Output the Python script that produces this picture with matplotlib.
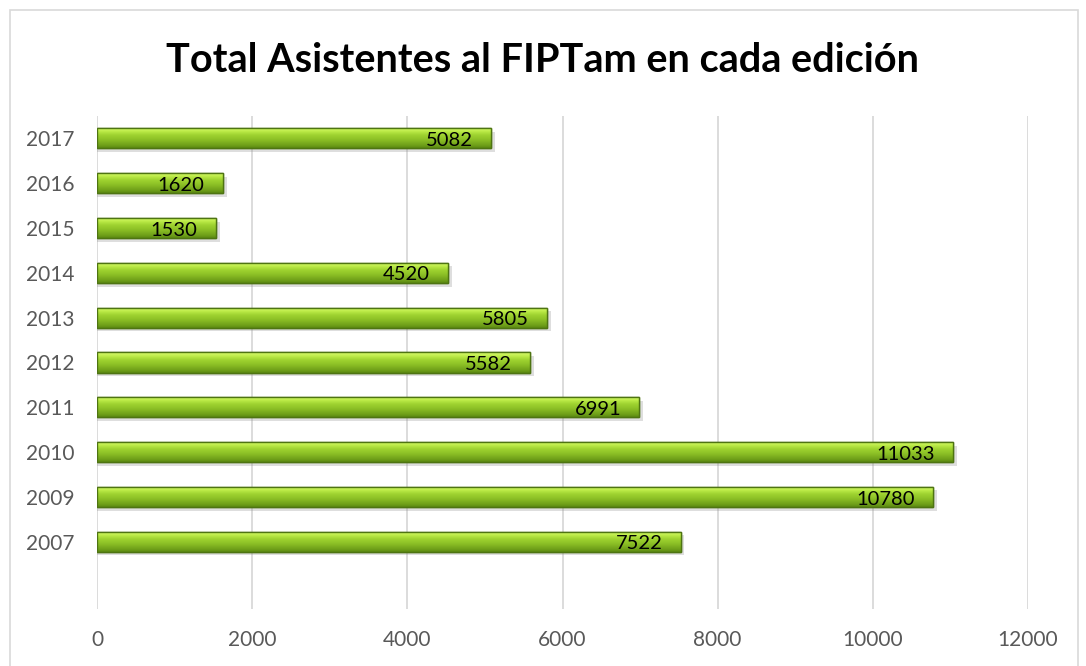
import numpy as np
import matplotlib
matplotlib.use("Agg")
import matplotlib.pyplot as plt
from matplotlib.colors import LinearSegmentedColormap
from matplotlib.patches import Rectangle

title = "Total Asistentes al FIPTam en cada edición"
years = ["", "2007", "2009", "2010", "2011", "2012", "2013", "2014", "2015", "2016", "2017"]
attendees = [np.nan, 7522, 10780, 11033, 6991, 5582, 5805, 4520, 1530, 1620, 5082]
x_ticks = [0, 2000, 4000, 6000, 8000, 10000, 12000]

plt.rcParams['font.family'] = ['Lato', 'DejaVu Sans']

W, H = 1086, 666
fig = plt.figure(figsize=(W / 100, H / 100), dpi=100)
fig.patch.set_facecolor("white")

# outer chart frame
fig.add_artist(Rectangle((10 / W, -0.01), 1068 / W, (H - 10) / H + 0.01,
                         transform=fig.transFigure, fill=False,
                         edgecolor="#d9d9d9", linewidth=1.2))

ax = fig.add_axes([97 / W, 57 / H, 931 / W, 493 / H])
ax.set_xlim(0, 12000)
ax.set_ylim(-0.5, len(years) - 0.5)

ypos = np.arange(len(years))
bar_h = 0.45
vals = np.array(attendees, dtype=float)
valid = ~np.isnan(vals)

# shadow
ax.barh(ypos[valid] - 0.08, vals[valid] + 50, height=bar_h, color="#8a8a8a",
        alpha=0.28, zorder=2, linewidth=0)

bars = ax.barh(ypos[valid], vals[valid], height=bar_h, color="#8fc22a",
               edgecolor="#4e7412", linewidth=1.0, zorder=3)

cmap = LinearSegmentedColormap.from_list("bev", [
    (0.0, "#5a8812"),
    (0.10, "#6c9c18"),
    (0.40, "#8cc026"),
    (0.62, "#9ed230"),
    (0.78, "#b8e844"),
    (0.90, "#ccf45c"),
    (1.0, "#dafa74"),
])
grad = np.linspace(0, 1, 64).reshape(-1, 1)
for b in bars:
    x0, y0 = b.get_x(), b.get_y()
    w, h = b.get_width(), b.get_height()
    im = ax.imshow(grad, cmap=cmap, extent=(x0, x0 + w, y0, y0 + h),
                   origin="lower", aspect="auto", zorder=3.5, interpolation="bicubic")
    im.set_clip_path(b)
    ax.barh(y0 + h / 2, w, height=h, fill=False, edgecolor="#4e7412",
            linewidth=1.0, zorder=3.6)
    ax.annotate(f"{int(w)}", xy=(x0 + w, y0 + h / 2), xytext=(-13, -1.5),
                textcoords="offset points", ha="right", va="center",
                fontsize=14.5, color="black", zorder=5)

ax.set_aspect("auto")
ax.set_yticks(ypos)
ax.set_yticklabels(years)
ax.set_xticks(x_ticks)
ax.set_xticklabels([str(t) for t in x_ticks])
ax.tick_params(axis="both", length=0, labelsize=15, colors="#595959")
ax.tick_params(axis="y", pad=16)
ax.tick_params(axis="x", pad=15)
ax.grid(axis="x", color="#d9d9d9", linewidth=1.3, zorder=0)
ax.set_axisbelow(True)
for s in ax.spines.values():
    s.set_visible(False)

fig.text(0.5, (H - 61) / H, title, ha="center", va="center",
         fontsize=28.5, fontweight="bold", color="black")

fig.savefig("out.png", dpi=100, facecolor="white")
